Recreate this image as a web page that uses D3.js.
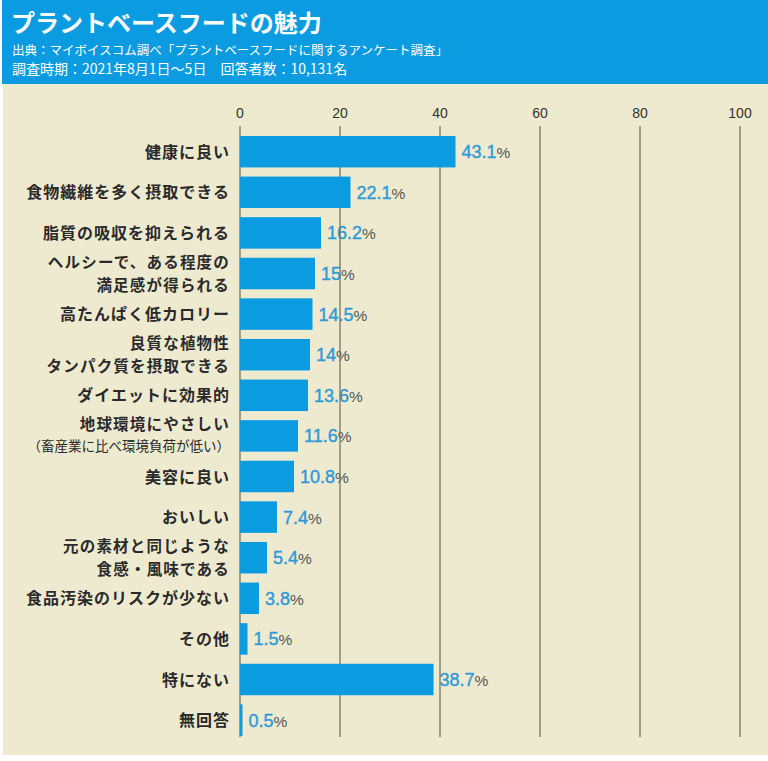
<!DOCTYPE html>
<html><head><meta charset="utf-8">
<script src="https://cdn.jsdelivr.net/npm/d3@7"></script>
<style>html,body{margin:0;padding:0;background:#fff;}svg{display:block;}</style>
</head><body>
<script>
const title = "プラントベースフードの魅力";
const subtitles = ["出典：マイボイスコム調べ「プラントベースフードに関するアンケート調査」", "調査時期：2021年8月1日〜5日　回答者数：10,131名"];
const categories = ["健康に良い","食物繊維を多く摂取できる","脂質の吸収を抑えられる","ヘルシーで、ある程度の|満足感が得られる","高たんぱく低カロリー","良質な植物性|タンパク質を摂取できる","ダイエットに効果的","地球環境にやさしい|（畜産業に比べ環境負荷が低い）","美容に良い","おいしい","元の素材と同じような|食感・風味である","食品汚染のリスクが少ない","その他","特にない","無回答"];
const values = [43.1,22.1,16.2,15,14.5,14,13.6,11.6,10.8,7.4,5.4,3.8,1.5,38.7,0.5];
const ticks = [0,20,40,60,80,100];

const W=768,H=761;
const svg=d3.select("body").append("svg").attr("width",W).attr("height",H);
svg.append("rect").attr("x",0).attr("y",0).attr("width",W).attr("height",H).attr("fill","#fff");
svg.append("rect").attr("x",3).attr("y",84).attr("width",765).attr("height",671).attr("fill","#eeead0");
svg.append("rect").attr("x",2).attr("y",0).attr("width",766).attr("height",84).attr("fill","#0a9be1");

const jp='"Noto Sans CJK JP","Noto Sans",sans-serif';
const lat='"Liberation Sans",Arial,sans-serif';
svg.append("text").attr("x",11).attr("y",32).attr("fill","#fff").attr("font-family",jp).attr("font-weight","bold").attr("font-size",24).text(title);
const subSizes=[12.5,14];
subtitles.forEach((s,i)=>svg.append("text").attr("x",12).attr("y",55+i*19).attr("fill","#fff").attr("font-family",jp).attr("font-size",subSizes[i]).text(s));

const x=d3.scaleLinear().domain([0,100]).range([240,740]);
const y=d3.scaleBand().domain(categories).range([131.4,131.4+40.6*15]).paddingInner(0.225).paddingOuter(0.1125);

// tick labels
svg.append("g").selectAll("text").data(ticks).join("text")
  .attr("x",d=>x(d)).attr("y",118).attr("text-anchor","middle")
  .attr("font-family",lat).attr("font-size",14).attr("fill","#333").text(d=>d);

// value labels (under gridlines)
const vl=svg.append("g").selectAll("text").data(categories).join("text")
  .attr("x",(d,i)=>x(values[i])+6).attr("y",d=>y(d)+y.bandwidth()/2+6.5)
  .attr("font-family",lat);
vl.append("tspan").attr("font-size",18).attr("fill","#2f9ad8").attr("stroke","#2f9ad8").attr("stroke-width",0.4).text((d,i)=>values[i]);
vl.append("tspan").attr("font-size",15.5).attr("fill","#555").text("%");

// gridlines
svg.append("g").selectAll("line").data(ticks).join("line")
  .attr("x1",d=>x(d)).attr("x2",d=>x(d)).attr("y1",126).attr("y2",737)
  .attr("stroke","#6e6a55").attr("stroke-width",1.2);

// bars
svg.append("g").selectAll("rect").data(categories).join("rect")
  .attr("x",x(0)).attr("y",d=>y(d)).attr("width",(d,i)=>x(values[i])-x(0)).attr("height",y.bandwidth())
  .attr("fill","#0a9be1");

// category labels
const lg=svg.append("g");
categories.forEach(c=>{
  const parts=c.split("|");
  const cy=y(c)+y.bandwidth()/2;
  if(parts.length===1){
    lg.append("text").attr("x",230).attr("y",cy+6).attr("text-anchor","end").attr("font-family",jp).attr("font-weight","bold").attr("font-size",16).attr("letter-spacing",1).attr("fill","#2a2a2a").text(parts[0]);
  } else {
    const sub=parts[1].startsWith("（");
    lg.append("text").attr("x",230).attr("y",cy-5.5).attr("text-anchor","end").attr("font-family",jp).attr("font-weight","bold").attr("font-size",15.5).attr("letter-spacing",1.2).attr("fill","#2a2a2a").text(parts[0]);
    if(sub){
      lg.append("text").attr("x",230).attr("y",cy+15.5).attr("text-anchor","end").attr("font-family",jp).attr("font-size",13.5).attr("fill","#2a2a2a").text(parts[1]);
    } else {
      lg.append("text").attr("x",230).attr("y",cy+17).attr("text-anchor","end").attr("font-family",jp).attr("font-weight","bold").attr("font-size",15.5).attr("letter-spacing",1.2).attr("fill","#2a2a2a").text(parts[1]);
    }
  }
});
</script>
</body></html>
